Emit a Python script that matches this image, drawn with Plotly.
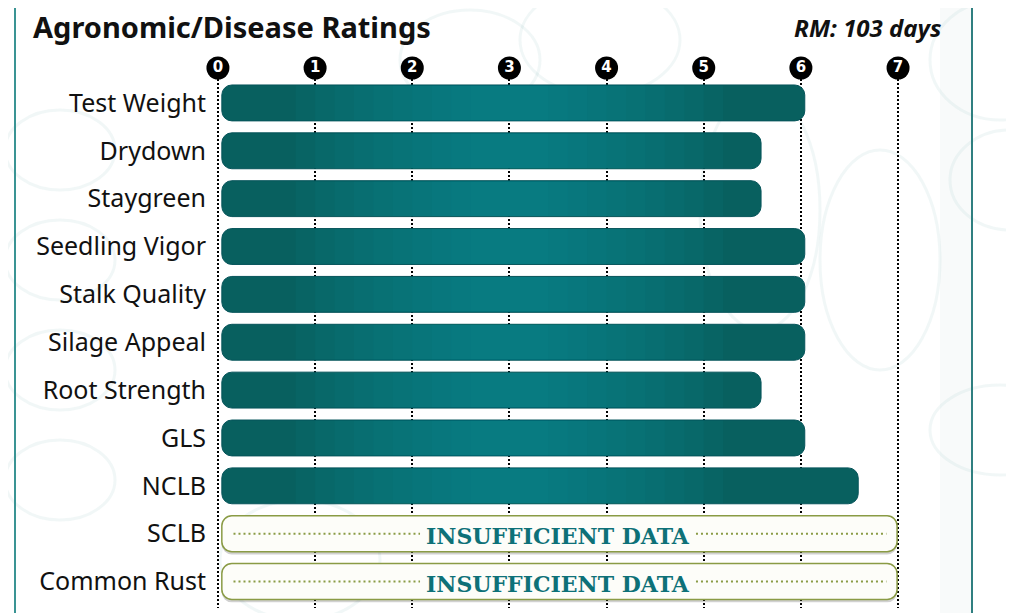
"""Agronomic / disease ratings card for a corn hybrid"""

import plotly.graph_objects as go

# ---- data -------------------------------------------------------------
traits = [
    "Test Weight", "Drydown", "Staygreen", "Seedling Vigor", "Stalk Quality",
    "Silage Appeal", "Root Strength", "GLS", "NCLB", "SCLB", "Common Rust",
]
ratings = [6.0, 5.55, 5.55, 6.0, 6.0, 6.0, 5.55, 6.0, 6.55, None, None]
scale_ticks = [0, 1, 2, 3, 4, 5, 6, 7]
relative_maturity = "RM: 103 days"
missing_text = "INSUFFICIENT DATA"

# ---- style ------------------------------------------------------------
teal_dark = "#08605f"
teal_light = "#0d8f98"
teal_text = "#0e7178"
olive = "#8a9b45"
label_font = "Noto Sans"
bar_base = 0.04
bar_width = 0.75
scale_max = scale_ticks[-1]

W, H = 1014, 613
PAGE_SHIFT = 8  # default body margin of the written page
# target positions below are in page pixels
plot_left, plot_width = 216, 684
plot_top, plot_bottom = 50, 608


def paper_x(px):
    return (px - plot_left) / plot_width


def paper_y(py):
    return (plot_bottom - py) / (plot_bottom - plot_top)


rated = [(t, r) for t, r in zip(traits, ratings) if r is not None]
missing = [t for t, r in zip(traits, ratings) if r is None]

figure = go.Figure()

# rated traits
figure.add_trace(go.Bar(
    y=[t for t, _ in rated],
    x=[r for _, r in rated],
    base=bar_base,
    orientation="h",
    width=bar_width,
    marker={"color": teal_dark, "cornerradius": 10,
            "line": {"color": "#06545a", "width": 1}},
    showlegend=False,
    hovertemplate="%{y}: %{x}<extra></extra>",
))

# soft horizontal sheen on the rated bars (stacked translucent layers)
sheen_center = 3.0
for step in range(10):
    half = 2.2 - step * 0.2
    starts, lengths = [], []
    for _, r in rated:
        x0 = max(sheen_center - half, bar_base + 0.25)
        x1 = min(sheen_center + half, bar_base + r - 0.3)
        starts.append(x0)
        lengths.append(max(x1 - x0, 0))
    figure.add_trace(go.Bar(
        y=[t for t, _ in rated], x=lengths, base=starts,
        orientation="h", width=bar_width - 0.02,
        marker={"color": teal_light, "opacity": 0.09, "line": {"width": 0}},
        showlegend=False, hoverinfo="skip",
    ))

# placeholders for traits without data: shadow, then the pill
figure.add_trace(go.Bar(
    y=missing,
    x=[scale_max - bar_base - 0.01] * len(missing),
    base=bar_base,
    orientation="h",
    width=bar_width,
    offset=-bar_width / 2 + 0.06,
    marker={"color": "rgba(0,0,0,0.18)", "cornerradius": 10, "line": {"width": 0}},
    showlegend=False,
    hoverinfo="skip",
))
figure.add_trace(go.Bar(
    y=missing,
    x=[scale_max - bar_base - 0.01] * len(missing),
    base=bar_base,
    orientation="h",
    width=bar_width,
    marker={"color": "#fdfdf9", "cornerradius": 10,
            "line": {"color": olive, "width": 1.5}},
    showlegend=False,
    hoverinfo="skip",
))

text_center = scale_max / 2
text_half = 1.42
missing_notes = []
for trait in missing:
    for x0, x1 in [(bar_base + 0.12, text_center - text_half),
                   (text_center + text_half, scale_max - 0.12)]:
        figure.add_trace(go.Scatter(
            x=[x0, x1], y=[trait, trait], mode="lines",
            line={"color": olive, "width": 2, "dash": "2px,3px"},
            showlegend=False, hoverinfo="skip",
        ))
    missing_notes.append({
        "text": missing_text, "x": text_center, "y": trait, "xref": "x", "yref": "y",
        "showarrow": False, "yshift": -2,
        "font": {"family": "DejaVu Serif", "size": 22, "color": teal_text, "weight": 600},
    })

# scale bubbles along the top
figure.add_trace(go.Scatter(
    x=scale_ticks,
    y=[0.5] * len(scale_ticks),
    xaxis="x2", yaxis="y2",
    mode="markers+text",
    text=[str(t) for t in scale_ticks],
    textposition="middle center",
    textfont={"family": "DejaVu Sans", "size": 15, "color": "white", "weight": 800},
    marker={"size": 23, "color": "black"},
    cliponaxis=False,
    showlegend=False, hoverinfo="skip",
))

# faint sketch-like background decoration
decor = []
for cx, cy, rx, ry in [(60, 150, 55, 40), (60, 260, 55, 40), (60, 370, 55, 40),
                       (60, 480, 55, 40), (470, 60, 70, 50), (600, 40, 80, 55),
                       (760, 210, 60, 120), (880, 260, 60, 110), (1000, 60, 70, 60),
                       (1010, 180, 60, 50), (1000, 430, 70, 45), (300, 560, 80, 60)]:
    decor.append({
        "type": "circle", "xref": "paper", "yref": "paper", "layer": "below",
        "x0": paper_x(cx - rx), "x1": paper_x(cx + rx),
        "y0": paper_y(cy + ry), "y1": paper_y(cy - ry),
        "line": {"color": "rgba(120,175,175,0.10)", "width": 3},
    })

frame = [
    {"type": "rect", "xref": "paper", "yref": "paper", "layer": "below",
     "x0": paper_x(940), "x1": paper_x(972), "y0": paper_y(H + 20), "y1": paper_y(-20),
     "fillcolor": "rgba(200,210,210,0.12)", "line": {"width": 0}},
    {"type": "line", "xref": "paper", "yref": "paper",
     "x0": paper_x(15), "x1": paper_x(15), "y0": paper_y(H + 20), "y1": paper_y(-20),
     "line": {"color": "#3a9494", "width": 2}},
    {"type": "line", "xref": "paper", "yref": "paper",
     "x0": paper_x(972), "x1": paper_x(972), "y0": paper_y(H + 20), "y1": paper_y(-20),
     "line": {"color": "#2f7f80", "width": 2}},
]

annotations = [
    {"text": "<b>Agronomic/Disease Ratings</b>", "xref": "paper", "yref": "paper",
     "x": paper_x(32), "y": paper_y(26), "xanchor": "left", "yanchor": "middle",
     "borderpad": 0, "showarrow": False,
     "font": {"family": label_font, "size": 29, "color": "#111111"}},
    {"text": f"<b><i>{relative_maturity}</i></b>", "xref": "paper", "yref": "paper",
     "x": paper_x(942), "y": paper_y(27), "xanchor": "right", "yanchor": "middle",
     "borderpad": 0, "showarrow": False,
     "font": {"family": label_font, "size": 24, "color": "#111111"}},
] + missing_notes

plot_layout = {
    "width": W, "height": H,
    "margin": {"l": plot_left - PAGE_SHIFT, "r": W - (plot_left - PAGE_SHIFT) - plot_width,
               "t": plot_top - PAGE_SHIFT, "b": H - (plot_bottom - PAGE_SHIFT), "pad": 0},
    "paper_bgcolor": "white",
    "plot_bgcolor": "rgba(0,0,0,0)",
    "barmode": "overlay",
    "xaxis": {"range": [-0.02, 7.02], "tickvals": scale_ticks, "showticklabels": False,
              "showgrid": True, "gridcolor": "black", "gridwidth": 2, "griddash": "2px,2px",
              "zeroline": False, "showline": False, "ticks": "", "anchor": "y"},
    "yaxis": {"type": "category", "categoryorder": "array", "categoryarray": traits,
              "autorange": "reversed", "domain": [0, paper_y(79)],
              "showgrid": False, "zeroline": False, "ticks": "",
              "ticklabelstandoff": 9,
              "tickfont": {"family": label_font, "size": 25, "color": "#111111"}},
    "xaxis2": {"matches": "x", "anchor": "y2", "visible": False, "showgrid": False},
    "yaxis2": {"domain": [paper_y(78), paper_y(58)], "range": [0, 1],
               "visible": False, "showgrid": False},
    "shapes": decor + frame,
    "annotations": annotations,
}

figure.update_layout(plot_layout)
figure.write_html("out.html")
